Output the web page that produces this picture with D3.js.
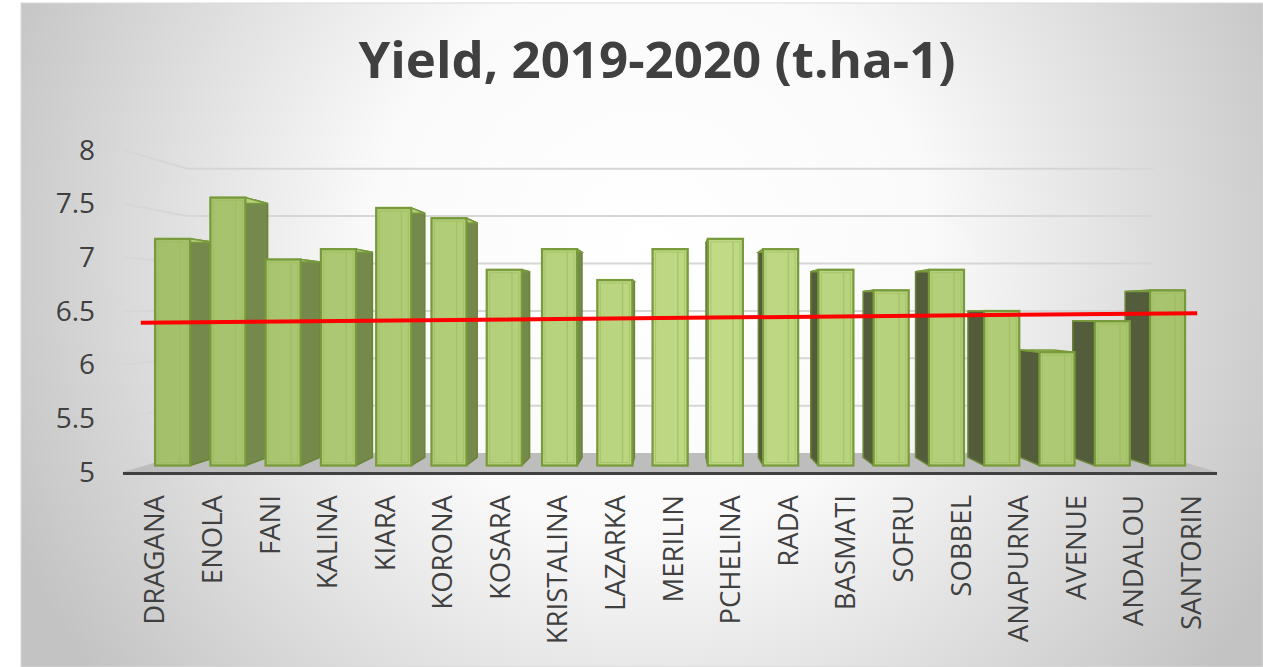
<!DOCTYPE html>
<html>
<head>
<meta charset="utf-8">
<script src="https://cdn.jsdelivr.net/npm/d3@7"></script>
<style>
    body { margin: 0; background: #ffffff; }
    svg { display: block; }
</style>
</head>
<body>
<div id="chart1"></div>
<script>
// chart data
let varieties = ["DRAGANA", "ENOLA", "FANI", "KALINA", "KIARA", "KORONA", "KOSARA", "KRISTALINA", "LAZARKA",
    "MERILIN", "PCHELINA", "RADA", "BASMATI", "SOFRU", "SOBBEL", "ANAPURNA", "AVENUE", "ANDALOU", "SANTORIN"];
let yields = [7.2, 7.6, 7.0, 7.1, 7.5, 7.4, 6.9, 7.1, 6.8, 7.1, 7.2, 7.1, 6.9, 6.7, 6.9, 6.5, 6.1, 6.4, 6.7];
let yTicks = [5, 5.5, 6, 6.5, 7, 7.5, 8];
let trendValues = [6.39, 6.48];        // trendline at first and last variety
let titleText = "Yield, 2019-2020 (t.ha-1)";

let width = 1263;
let height = 667;

// front plane of the 3d box, vanishing point and depths
let left = 123, right = 1217;
let vpX = 672, vpY = 310;
let floorDepth = 0.117;
let barFront = 0.04, barBack = 0.09;

let x = d3.scaleBand()
    .domain(varieties)
    .range([left, right])
    .paddingInner(0.366)
    .paddingOuter(0.183);

let y = d3.scaleLinear()
    .domain([5, 8])
    .range([472, 150]);

//projects a point of the front plane back by depth k
function proj(px, py, k) {
    return [px + k * (vpX - px), py + k * (vpY - py)];
}
function pts(list) {
    return list.map(p => p.join(",")).join(" ");
}

let svg = d3.select("#chart1")
    .append("svg")
    .attr("width", width)
    .attr("height", height);

let defs = svg.append("defs");
let bg = defs.append("radialGradient")
    .attr("id", "bgGrad")
    .attr("gradientUnits", "userSpaceOnUse")
    .attr("cx", 650).attr("cy", 250).attr("r", 700);
bg.append("stop").attr("offset", "0").attr("stop-color", "#ffffff");
bg.append("stop").attr("offset", "0.4").attr("stop-color", "#fafafa");
bg.append("stop").attr("offset", "1").attr("stop-color", "#c3c3c3");

let front = defs.append("linearGradient")
    .attr("id", "frontGrad")
    .attr("gradientUnits", "userSpaceOnUse")
    .attr("x1", left).attr("x2", right).attr("y1", 0).attr("y2", 0);
front.append("stop").attr("offset", "0").attr("stop-color", "#a2be68");
front.append("stop").attr("offset", "0.55").attr("stop-color", "#c0da86");
front.append("stop").attr("offset", "1").attr("stop-color", "#a5c16b");

// chart area background
svg.append("rect")
    .attr("x", 21)
    .attr("y", 3)
    .attr("width", width - 21)
    .attr("height", height - 3)
    .style("fill", "url(#bgGrad)")
    .style("stroke", "#d9d9d9")
    .style("stroke-width", 1);

// title
svg.append("text")
    .attr("x", 657)
    .attr("y", 78)
    .attr("text-anchor", "middle")
    .style("font-family", "'Open Sans', sans-serif")
    .style("font-weight", "bold")
    .style("font-size", "51px")
    .style("fill", "#404040")
    .text(titleText);

// floor
svg.append("polygon")
    .attr("points", pts([proj(left, y(5), 0), proj(right, y(5), 0),
        proj(right, y(5), floorDepth), proj(left, y(5), floorDepth)]))
    .style("fill", "#bdbdbd");

svg.append("line")
    .attr("x1", left).attr("x2", right)
    .attr("y1", y(5) + 1.5).attr("y2", y(5) + 1.5)
    .style("stroke", "#404040")
    .style("stroke-width", 3);

// gridlines on the side wall and back wall
svg.selectAll(".grid")
    .data(yTicks.filter(d => d > 5))
    .enter().append("polyline")
    .attr("class", "grid")
    .attr("points", d => pts([proj(left, y(d), 0), proj(left, y(d), floorDepth), proj(right, y(d), floorDepth)]))
    .style("fill", "none")
    .style("stroke", "#d6d6d6")
    .style("stroke-width", 2);

// y axis labels
svg.selectAll(".ytick")
    .data(yTicks)
    .enter().append("text")
    .attr("class", "ytick")
    .attr("x", 95)
    .attr("y", d => y(d))
    .attr("dy", "0.35em")
    .attr("text-anchor", "end")
    .style("font-family", "'Open Sans', sans-serif")
    .style("font-size", "28px")
    .style("fill", "#404040")
    .text(d => d);

// bars, outer ones first so inner ones cover their side faces
let bars = varieties.map((name, i) => ({ name: name, value: yields[i], i: i }));
let mid = (varieties.length - 1) / 2;
bars.sort((a, b) => Math.abs(b.i - mid) - Math.abs(a.i - mid));

let barG = svg.selectAll(".bar")
    .data(bars)
    .enter().append("g")
    .attr("class", "bar");

barG.each(function (d) {
    let g = d3.select(this);
    let xl = x(d.name), xr = x(d.name) + x.bandwidth();
    let yt = y(d.value), yb = y(5);
    let sideX = (xl + xr) / 2 < vpX ? xr : xl;
    let dark = (xl + xr) / 2 < vpX ? "#74894b" : "#535d3c";

    // side face
    g.append("polygon")
        .attr("points", pts([proj(sideX, yt, barFront), proj(sideX, yt, barBack),
            proj(sideX, yb, barBack), proj(sideX, yb, barFront)]))
        .style("fill", dark)
        .style("stroke", "#6a8536")
        .style("stroke-width", 1.5)
        .style("stroke-linejoin", "round");

    // top face
    g.append("polygon")
        .attr("points", pts([proj(xl, yt, barFront), proj(xr, yt, barFront),
            proj(xr, yt, barBack), proj(xl, yt, barBack)]))
        .style("fill", "#b5cf7c")
        .style("stroke", "#789a3c")
        .style("stroke-width", 1.5);

    // front face
    let p0 = proj(xl, yt, barFront), p1 = proj(xr, yb, barFront);
    g.append("rect")
        .attr("x", p0[0]).attr("y", p0[1])
        .attr("width", p1[0] - p0[0]).attr("height", p1[1] - p0[1])
        .style("fill", "url(#frontGrad)")
        .style("stroke", "#779a3a")
        .style("stroke-width", 2.2);

    // inner bevel lines
    g.append("rect")
        .attr("x", p0[0] + 3).attr("y", p0[1] + 3)
        .attr("width", p1[0] - p0[0] - 6).attr("height", p1[1] - p0[1] - 6)
        .style("fill", "none")
        .style("stroke", "#9cba5e")
        .style("stroke-opacity", 0.6)
        .style("stroke-width", 1);
    let lx = p0[0] + (p1[0] - p0[0]) * 0.72;
    g.append("line")
        .attr("x1", lx).attr("x2", lx)
        .attr("y1", p0[1] + 3).attr("y2", p1[1] - 3)
        .style("stroke", "#9cba5e")
        .style("stroke-opacity", 0.6)
        .style("stroke-width", 1.5);
});

// x axis labels
svg.selectAll(".xtick")
    .data(varieties)
    .enter().append("text")
    .attr("class", "xtick")
    .attr("transform", d => "translate(" + (x(d) + x.bandwidth() / 2 + 3) + ",495) rotate(-90)")
    .attr("dy", "0.35em")
    .attr("text-anchor", "end")
    .style("font-family", "'Open Sans', sans-serif")
    .style("font-size", "27.5px")
    .style("fill", "#404040")
    .text(d => d);

// trendline
let first = varieties[0], last = varieties[varieties.length - 1];
svg.append("line")
    .attr("x1", x(first) + x.bandwidth() / 2 - 11)
    .attr("y1", y(trendValues[0]))
    .attr("x2", x(last) + x.bandwidth() / 2 + 9)
    .attr("y2", y(trendValues[1]))
    .style("stroke", "#ff0000")
    .style("stroke-width", 4);
</script>
</body>
</html>
